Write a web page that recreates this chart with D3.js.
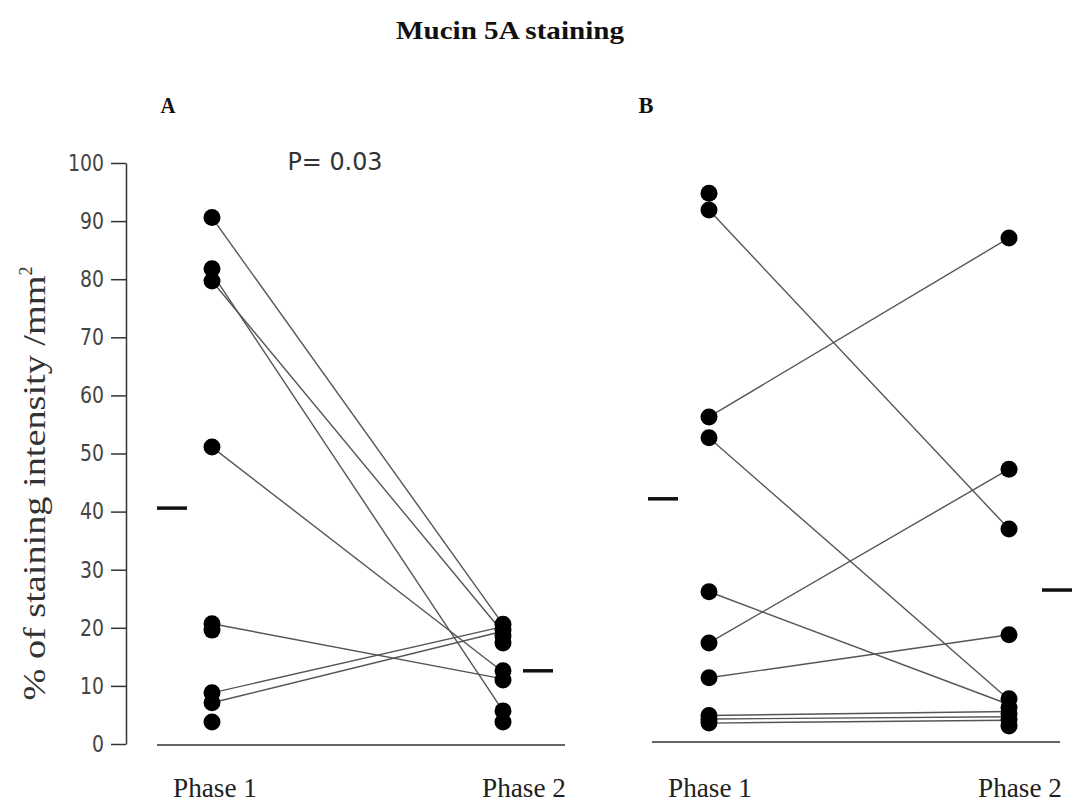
<!DOCTYPE html>
<html>
<head>
<meta charset="utf-8">
<script src="https://cdn.jsdelivr.net/npm/d3@7"></script>
<style>
  html, body { margin: 0; padding: 0; background: #fff; }
  svg { display: block; }
</style>
</head>
<body>
<svg id="chart" width="1072" height="805"></svg>
<script>
// ---------- data ----------
const phases = ["Phase 1", "Phase 2"];
const yTicks = [0, 10, 20, 30, 40, 50, 60, 70, 80, 90, 100];

// Panel A
const aPhase1 = [90.6, 81.8, 79.7, 51.1, 20.7, 19.6, 8.8, 7.1, 3.8];
const aPhase2 = [20.6, 19.6, 18.6, 17.4, 12.6, 11.0, 5.7, 3.8];
const aLinks = [[90.6, 20.6], [79.7, 19.2], [81.0, 5.7], [51.1, 12.4], [20.7, 11.2], [8.8, 20.2], [7.1, 19.4]];
const aMeans = [40.6, 12.6];
const aPText = "P= 0.03";

// Panel B
const bPhase1 = [94.8, 91.9, 56.3, 52.7, 26.2, 17.4, 11.4, 4.9, 4.2, 3.6];
const bPhase2 = [87.1, 47.3, 37.0, 18.8, 7.8, 6.3, 5.2, 4.2, 3.1];
const bLinks = [[91.9, 37.0], [56.3, 87.1], [52.7, 7.6], [26.2, 6.8], [17.4, 47.3], [11.4, 18.8], [4.9, 5.6], [4.3, 4.7], [3.6, 4.1]];
const bMeans = [42.2, 26.5];

const titleText = "Mucin 5A  staining";
const yLabel = "% of staining intensity /mm";

// ---------- layout ----------
const svg = d3.select("#chart");
const y = d3.scaleLinear().domain([0, 100]).range([744, 163]);
const axisX = 126;

// title
svg.append("text").attr("x", 510).attr("y", 39)
  .attr("text-anchor", "middle")
  .attr("font-family", "Liberation Serif, Times New Roman, serif")
  .attr("font-weight", "bold").attr("font-size", 25)
  .attr("textLength", 228).attr("lengthAdjust", "spacingAndGlyphs")
  .attr("fill", "#111").text(titleText);

// panel letters
[["A", 168], ["B", 646]].forEach(([t, cx]) => {
  svg.append("text").attr("x", cx).attr("y", 113).attr("text-anchor", "middle")
    .attr("font-family", "Liberation Serif, serif").attr("font-weight", "bold")
    .attr("font-size", 23).attr("textLength", 15).attr("lengthAdjust", "spacingAndGlyphs")
    .attr("fill", "#111").text(t);
});

// y axis
const yAxis = d3.axisLeft(y).tickValues(yTicks).tickSize(15).tickSizeOuter(0).tickPadding(7);
const gy = svg.append("g").attr("transform", `translate(${axisX},0)`).call(yAxis);
gy.select(".domain").attr("stroke", "#333").attr("stroke-width", 1.5);
gy.selectAll(".tick line").attr("stroke", "#333").attr("stroke-width", 1.5);
gy.selectAll(".tick text").attr("font-family", "DejaVu Sans, Verdana, sans-serif")
  .attr("font-size", 23).attr("fill", "#444")
  .attr("textLength", d => String(d).length * 12).attr("lengthAdjust", "spacingAndGlyphs");

// y label
const yl = svg.append("text")
  .attr("transform", `translate(45,${(265 + 690) / 2 + 6}) rotate(-90)`)
  .attr("text-anchor", "middle")
  .attr("font-family", "Liberation Serif, Times New Roman, serif")
  .attr("font-size", 31).attr("fill", "#333");
yl.append("tspan").attr("textLength", 425).attr("lengthAdjust", "spacingAndGlyphs").text(yLabel);
yl.append("tspan").attr("dy", -13).attr("font-size", 18).text("2");

function drawPanel(cfg) {
  const x = d3.scalePoint().domain(phases).range(cfg.range);
  const g = svg.append("g");
  // baseline
  g.append("line").attr("x1", cfg.base[0]).attr("x2", cfg.base[1])
    .attr("y1", cfg.baseY).attr("y2", cfg.baseY)
    .attr("stroke", "#333").attr("stroke-width", 1.5);
  // links
  g.selectAll("line.link").data(cfg.links).enter().append("line")
    .attr("class", "link")
    .attr("x1", x(phases[0])).attr("x2", x(phases[1]))
    .attr("y1", d => y(d[0])).attr("y2", d => y(d[1]))
    .attr("stroke", "#555").attr("stroke-width", 1.4);
  // dots
  const pts = cfg.p1.map(v => [phases[0], v]).concat(cfg.p2.map(v => [phases[1], v]));
  g.selectAll("circle").data(pts).enter().append("circle")
    .attr("cx", d => x(d[0])).attr("cy", d => y(d[1]))
    .attr("r", 8.5).attr("fill", "#000");
  // means
  g.selectAll("line.mean").data(cfg.means).enter().append("line")
    .attr("class", "mean")
    .attr("x1", (d, i) => x(phases[i]) + cfg.meanOff[i])
    .attr("x2", (d, i) => x(phases[i]) + cfg.meanOff[i] + 30)
    .attr("y1", d => y(d)).attr("y2", d => y(d))
    .attr("stroke", "#111").attr("stroke-width", 3.5);
  // x labels
  g.selectAll("text.xl").data(phases).enter().append("text")
    .attr("class", "xl")
    .attr("x", (d, i) => cfg.labelX[i]).attr("y", 797)
    .attr("text-anchor", "middle")
    .attr("font-family", "Liberation Serif, Times New Roman, serif")
    .attr("font-size", 27).attr("fill", "#222")
    .attr("textLength", 84).attr("lengthAdjust", "spacingAndGlyphs")
    .text(d => d);
}

drawPanel({ range: [212, 503], p1: aPhase1, p2: aPhase2, links: aLinks, means: aMeans,
  meanOff: [-55, 20], base: [157, 565], baseY: 745, labelX: [215, 524] });
drawPanel({ range: [709, 1009], p1: bPhase1, p2: bPhase2, links: bLinks, means: bMeans,
  meanOff: [-61, 33], base: [652, 1060], baseY: 742, labelX: [710, 1020] });

// P value
svg.append("text").attr("x", 335).attr("y", 170).attr("text-anchor", "middle")
  .attr("font-family", "DejaVu Sans, Verdana, sans-serif")
  .attr("font-size", 25).attr("fill", "#333")
  .attr("textLength", 95).attr("lengthAdjust", "spacingAndGlyphs")
  .text(aPText);
</script>
</body>
</html>
